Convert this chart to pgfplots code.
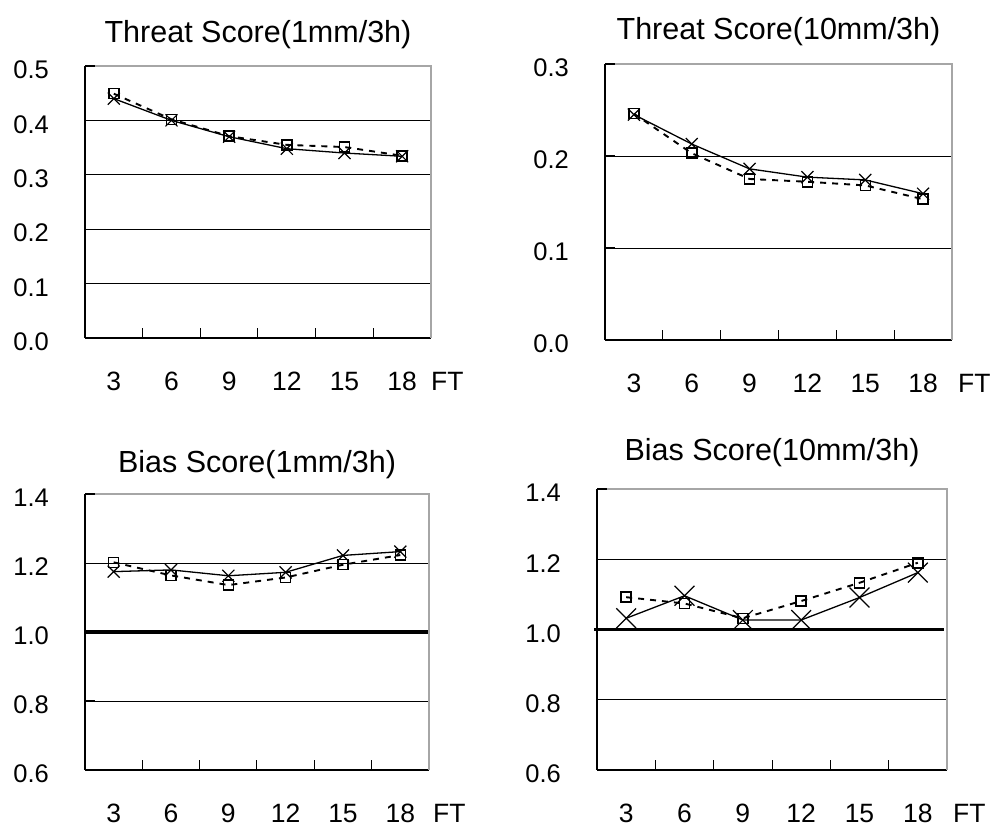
\documentclass[border=0pt]{standalone}
\usepackage{fontspec}
\setmainfont{Liberation Sans}
\usepackage{pgfplots}
\pgfplotsset{compat=1.18}
\tikzset{
  ttl/.style={anchor=base, font=\fontsize{30.5}{36}\selectfont, inner sep=0pt},
  ftl/.style={anchor=base west, font=\fontsize{26.5}{30}\selectfont, inner sep=0pt},
}
\begin{document}
\begin{tikzpicture}
\useasboundingbox (0pt,0pt) rectangle (997pt,827pt);
\pgfplotsset{
  myax/.style={
    scale only axis,
    anchor=south west,
    xmin=0.5, xmax=6.5,
    axis x line*=bottom, axis y line*=left,
    axis line style={black, line width=1.2pt},
    xtick={1,2,3,4,5,6}, xticklabels={3,6,9,12,15,18},
    minor xtick={0.5,1.5,2.5,3.5,4.5,5.5,6.5},
    major tick length=0pt, minor tick length=10pt,
    tick align=inside,
    minor tick style={black, line width=1pt},
    xticklabel style={font=\fontsize{26.5}{30}\selectfont, anchor=base, inner sep=0pt, yshift=-53pt},
    yticklabel style={font=\fontsize{25.5}{30}\selectfont, anchor=east, inner sep=0pt, xshift=-36pt, yshift=-4pt},
    yminorgrids, minor grid style={black, line width=0.9pt},
    clip=false,
  },
  sqline/.style={black, line width=1.9pt, dash pattern=on 6pt off 6pt, mark=square, mark size=5pt, mark options={solid, line width=1.5pt}},
  xline/.style={black, line width=1.3pt, mark=x, mark size=8.5pt, mark options={line width=1.2pt}},
}
% Panel 1
\begin{axis}[myax, at={(85pt,489pt)}, width=346pt, height=272pt,
  ymin=0, ymax=0.5, ytick={0,0.1,0.2,0.3,0.4,0.5}, yticklabels={0.0,0.1,0.2,0.3,0.4,0.5},
  minor ytick={0.1,0.2,0.3,0.4}]
\addplot[sqline] coordinates {(1,0.449)(2,0.402)(3,0.371)(4,0.355)(5,0.351)(6,0.335)};
\addplot[xline] coordinates {(1,0.440)(2,0.400)(3,0.370)(4,0.348)(5,0.340)(6,0.334)};
\draw[gray!70, line width=1.2pt] (rel axis cs:0,1) -- (rel axis cs:1,1) -- (rel axis cs:1,0);
\draw[black, line width=1.2pt] (rel axis cs:0,1) -- ++(10pt,0pt);
\node[ttl] at (rel axis cs:0.5,1) [yshift=23pt] {Threat Score(1mm/3h)};
\node[ftl] at (rel axis cs:1,0) [yshift=-53pt, xshift=0pt] {FT};
\end{axis}
% Panel 2
\begin{axis}[myax, at={(605pt,487pt)}, width=347pt, height=276pt,
  ymin=0, ymax=0.3, ytick={0,0.1,0.2,0.3}, yticklabels={0.0,0.1,0.2,0.3},
  minor ytick={0.1,0.2}]
\addplot[sqline] coordinates {(1,0.246)(2,0.203)(3,0.175)(4,0.172)(5,0.168)(6,0.153)};
\addplot[xline] coordinates {(1,0.245)(2,0.213)(3,0.186)(4,0.177)(5,0.174)(6,0.159)};
\draw[gray!70, line width=1.2pt] (rel axis cs:0,1) -- (rel axis cs:1,1) -- (rel axis cs:1,0);
\draw[black, line width=1.2pt] (rel axis cs:0,1) -- ++(10pt,0pt);
\node[ttl] at (rel axis cs:0.5,1) [yshift=24pt] {Threat Score(10mm/3h)};
\node[ftl] at (rel axis cs:1,0) [yshift=-53pt, xshift=6pt] {FT};
\end{axis}
% Panel 3
\begin{axis}[myax, at={(85pt,57pt)}, width=344pt, height=276pt,
  ymin=0.6, ymax=1.4, ytick={0.6,0.8,1.0,1.2,1.4}, yticklabels={0.6,0.8,1.0,1.2,1.4},
  minor ytick={0.8,1.2}]
\addplot[black, line width=3.5pt, forget plot] coordinates {(0.5,1.0)(6.5,1.0)};
\addplot[sqline] coordinates {(1,1.202)(2,1.164)(3,1.136)(4,1.158)(5,1.195)(6,1.223)};
\addplot[xline] coordinates {(1,1.175)(2,1.180)(3,1.163)(4,1.173)(5,1.222)(6,1.233)};
\draw[gray!70, line width=1.2pt] (rel axis cs:0,1) -- (rel axis cs:1,1) -- (rel axis cs:1,0);
\draw[black, line width=1.2pt] (rel axis cs:0,1) -- ++(10pt,0pt);
\node[ttl] at (rel axis cs:0.5,1) [yshift=22pt] {Bias Score(1mm/3h)};
\node[ftl] at (rel axis cs:1,0) [yshift=-53pt, xshift=4pt] {FT};
\end{axis}
% Panel 4
\begin{axis}[myax, at={(597pt,57pt)}, width=350pt, height=281pt,
  ymin=0.6, ymax=1.4, ytick={0.6,0.8,1.0,1.2,1.4}, yticklabels={0.6,0.8,1.0,1.2,1.4},
  minor ytick={0.8,1.2}]
\addplot[black, line width=3.5pt, forget plot] coordinates {(0.45,1.0)(6.45,1.0)};
\addplot[sqline] coordinates {(1,1.092)(2,1.074)(3,1.032)(4,1.081)(5,1.133)(6,1.190)};
\addplot[xline, mark size=14pt] coordinates {(1,1.032)(2,1.096)(3,1.027)(4,1.027)(5,1.091)(6,1.162)};
\draw[gray!70, line width=1.2pt] (rel axis cs:0,1) -- (rel axis cs:1,1) -- (rel axis cs:1,0);
\draw[black, line width=1.2pt] (rel axis cs:0,1) -- ++(10pt,0pt);
\node[ttl] at (rel axis cs:0.5,1) [yshift=29pt] {Bias Score(10mm/3h)};
\node[ftl] at (rel axis cs:1,0) [yshift=-53pt, xshift=6pt] {FT};
\end{axis}
\end{tikzpicture}
\end{document}
